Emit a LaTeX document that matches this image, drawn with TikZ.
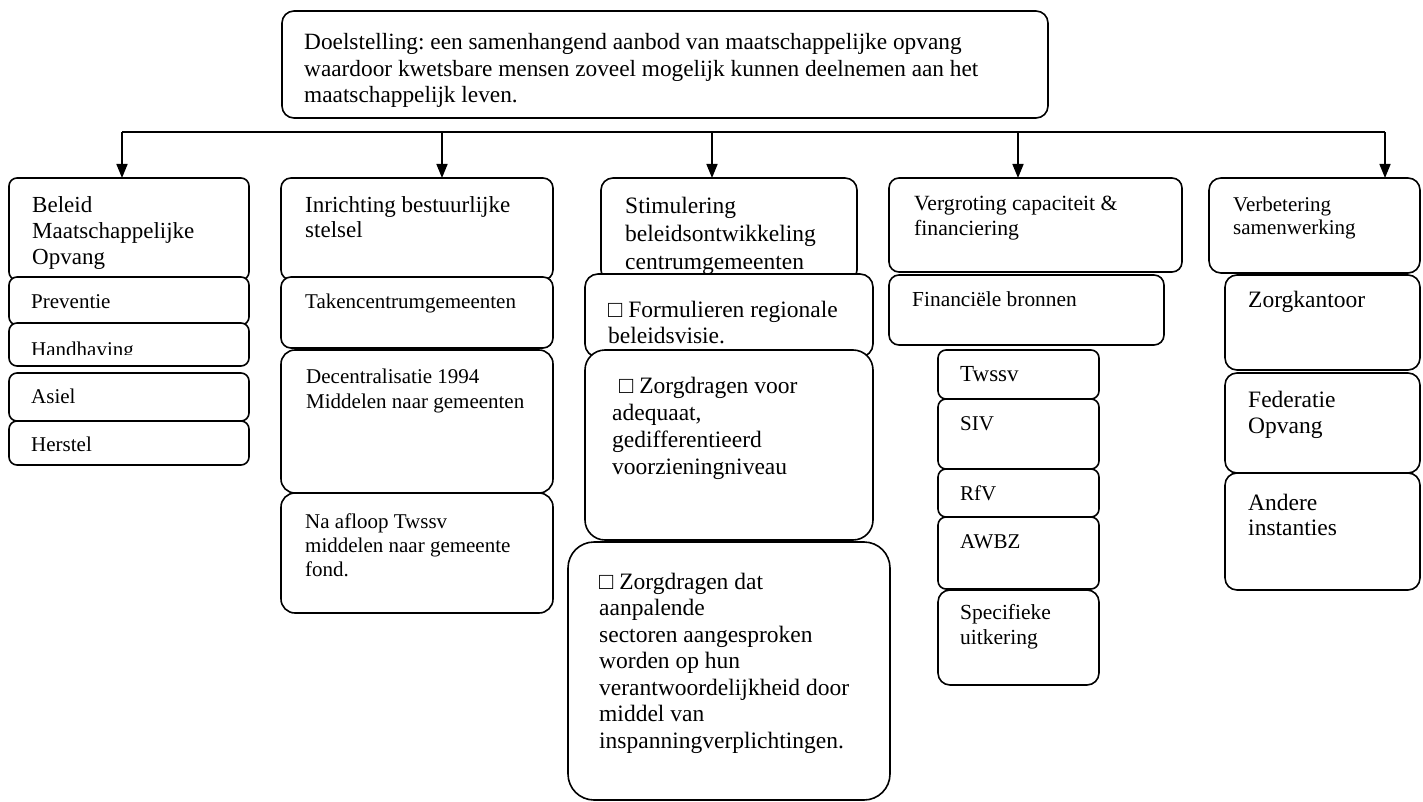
\documentclass[tikz,border=0pt]{standalone}
\usepackage{fontspec}
\setmainfont{Liberation Serif}
\usetikzlibrary{arrows.meta,fit}
\frenchspacing
\newcommand{\mlines}[1]{\begin{tabular}[t]{@{}l@{}}#1\end{tabular}}
\begin{document}
\begin{tikzpicture}[x=1pt,y=-1pt,
  box/.style={draw, line width=1.6pt, fill=white, rounded corners=#1, inner sep=0pt, outer sep=0pt},
  box/.default=9pt,
  tt/.style={anchor=base west, inner sep=0pt, font=\fontsize{21}{25}\selectfont},
  pp/.style={anchor=base west, inner sep=0pt, font=\fontsize{23.5}{27}\selectfont},
  conn/.style={line width=1.6pt},
  arr/.style={line width=1.6pt, -{Triangle[length=14pt,width=11pt]}}
]
\useasboundingbox (0,0) rectangle (1423,802);

% top box
\node[box=12pt, fit={(282,11) (1048,118)}] (top) {};
\node[pp, font=\fontsize{23.3}{26.5}\selectfont] (toptext) at (304,50) {\mlines{Doelstelling: een samenhangend aanbod van maatschappelijke opvang\\waardoor kwetsbare mensen zoveel mogelijk kunnen deelnemen aan het\\maatschappelijk leven.}};

% column 1
\node[box=8pt, fit={(9,178) (249,280)}] (a0) {};
\node[tt, font=\fontsize{23}{26}\selectfont] (a0t) at (32,213) {\mlines{Beleid\\Maatschappelijke\\Opvang}};
\node[box=8pt, fit={(9,277) (249,325)}] (a1) {};
\node[tt] (a1t) at (31,308) {Preventie};
\node[box=8pt, fit={(9,323) (249,366)}] (a2) {};
\begin{scope}
  \clip (0,300) rectangle (260,354);
  \node[tt] (a2t) at (31,356) {Handhaving};
\end{scope}
\node[box=8pt, fit={(9,373) (249,421)}] (a3) {};
\node[tt] (a3t) at (31,403) {Asiel};
\node[box=8pt, fit={(9,421) (249,465)}] (a4) {};
\node[tt] (a4t) at (31,451) {Herstel};

% column 2
\node[box=10pt, fit={(281,178) (553,280)}] (b0) {};
\node[tt, font=\fontsize{23}{25}\selectfont] (b0t) at (305,213) {\mlines{Inrichting bestuurlijke\\stelsel}};
\node[box=10pt, fit={(281,277) (553,348)}] (b1) {};
\node[tt] (b1t) at (305,308) {Takencentrumgemeenten};
\node[box=14pt, fit={(281,350) (553,493)}] (b2) {};
\node[tt] (b2t) at (306,383) {\mlines{Decentralisatie 1994\\Middelen naar gemeenten}};
\node[box=14pt, fit={(281,493) (553,613)}] (b3) {};
\node[tt, font=\fontsize{21}{24}\selectfont] (b3t) at (305,528) {\mlines{Na afloop Twssv\\middelen naar gemeente\\fond.}};

% column 3
\node[box=12pt, fit={(601,178) (857,282)}] (c0) {};
\node[pp, font=\fontsize{23.5}{28}\selectfont] (c0t) at (625,214) {\mlines{Stimulering\\beleidsontwikkeling\\centrumgemeenten}};
\node[box=13pt, fit={(585,274) (873,357)}] (c1) {};
\node[pp, font=\fontsize{23.5}{26.5}\selectfont] (c1t) at (608,317) {\mlines{□ Formulieren regionale\\beleidsvisie.}};
\node[box=20pt, fit={(585,350) (873,540)}] (c2) {};
\node[pp, font=\fontsize{23.5}{27.3}\selectfont] (c2t) at (612,393) {\mlines{\hspace{7pt}□ Zorgdragen voor\\adequaat,\\gedifferentieerd\\voorzieningniveau}};
\node[box=26pt, fit={(568,542) (890,800)}] (c3) {};
\node[pp, font=\fontsize{23.5}{26.5}\selectfont] (c3t) at (599,589) {\mlines{□ Zorgdragen dat\\aanpalende\\sectoren aangesproken\\worden op hun\\verantwoordelijkheid door\\middel van\\inspanningverplichtingen.}};

% column 4
\node[box=10pt, fit={(889,178) (1182,272)}] (d0) {};
\node[tt, font=\fontsize{21.7}{25}\selectfont] (d0t) at (914,211) {\mlines{Vergroting capaciteit \&\\financiering}};
\node[box=10pt, fit={(889,275) (1164,345)}] (d1) {};
\node[tt, font=\fontsize{21.4}{25}\selectfont] (d1t) at (912,306) {Financiële bronnen};
\node[box=8pt, fit={(938,350) (1099,399)}] (d2) {};
\node[tt, font=\fontsize{23}{25}\selectfont] (d2t) at (960,381) {Twssv};
\node[box=8pt, fit={(938,399) (1099,469)}] (d3) {};
\node[tt] (d3t) at (960,430) {SIV};
\node[box=8pt, fit={(938,469) (1099,517)}] (d4) {};
\node[tt] (d4t) at (960,500) {RfV};
\node[box=8pt, fit={(938,517) (1099,589)}] (d5) {};
\node[tt] (d5t) at (960,548) {AWBZ};
\node[box=12pt, fit={(938,590) (1099,685)}] (d6) {};
\node[tt, font=\fontsize{21.5}{25}\selectfont] (d6t) at (960,619) {\mlines{Specifieke\\uitkering}};

% column 5
\node[box=12pt, fit={(1209,178) (1420,273)}] (e0) {};
\node[tt, font=\fontsize{21}{23}\selectfont] (e0t) at (1233,212) {\mlines{Verbetering\\samenwerking}};
\node[box=12pt, fit={(1225,275) (1420,370)}] (e1) {};
\node[pp] (e1t) at (1248,307) {Zorgkantoor};
\node[box=12pt, fit={(1225,373) (1420,473)}] (e2) {};
\node[pp, font=\fontsize{23.5}{26}\selectfont] (e2t) at (1248,407) {\mlines{Federatie\\Opvang}};
\node[box=12pt, fit={(1225,473) (1420,590)}] (e3) {};
\node[pp, font=\fontsize{23.5}{25}\selectfont] (e3t) at (1248,510) {\mlines{Andere\\instanties}};

% connectors
\coordinate (j1) at (122,132);
\coordinate (j2) at (442,132);
\coordinate (j3) at (712,132);
\coordinate (j4) at (1018,132);
\coordinate (j5) at (1385,132);
\draw[conn] (j1) -- (j5);
\draw[arr] (j1) -- (j1 |- a0.north);
\draw[arr] (j2) -- (j2 |- b0.north);
\draw[arr] (j3) -- (j3 |- c0.north);
\draw[arr] (j4) -- (j4 |- d0.north);
\draw[arr] (j5) -- (j5 |- e0.north);
\end{tikzpicture}
\end{document}
